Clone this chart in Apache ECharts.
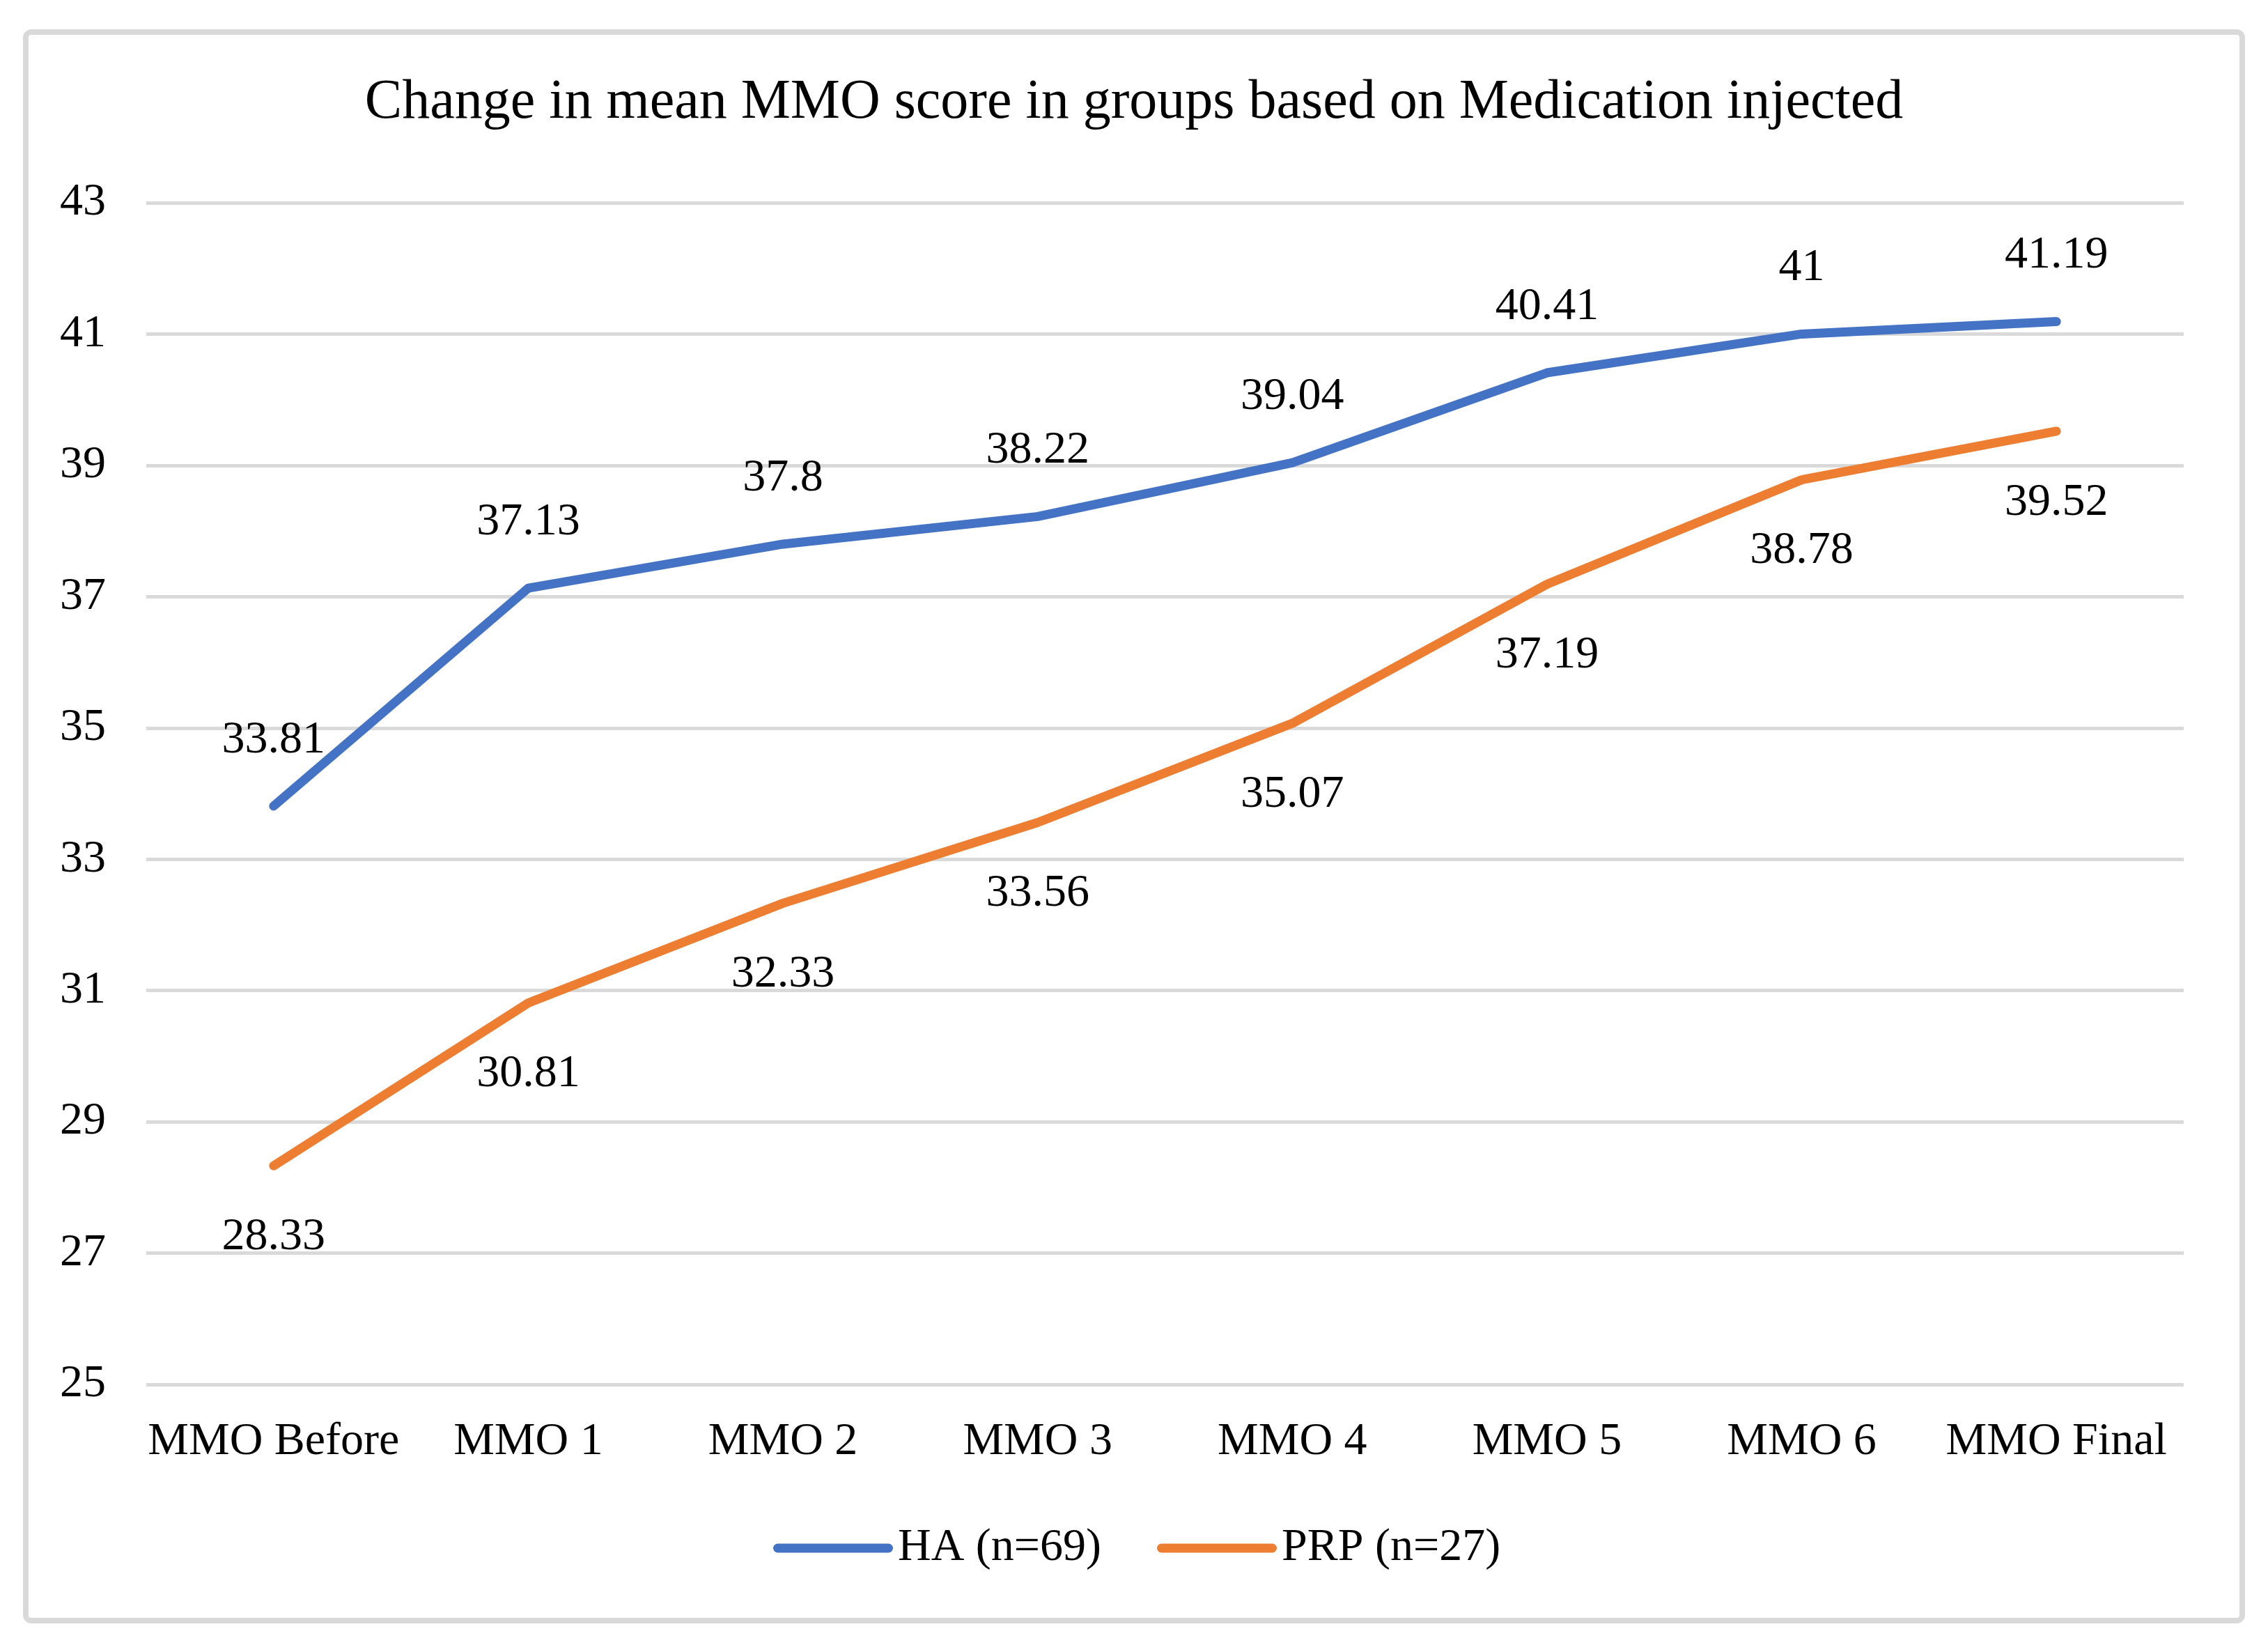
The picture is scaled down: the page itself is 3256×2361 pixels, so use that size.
<!DOCTYPE html>
<html>
<head>
<meta charset="utf-8">
<script src="https://cdn.jsdelivr.net/npm/echarts@6/dist/echarts.min.js"></script>
<style>
html,body{margin:0;padding:0;background:#fff;}
#c{width:3256px;height:2361px;}
</style>
</head>
<body>
<div id="c"></div>
<script>
const categories = ['MMO Before','MMO 1','MMO 2','MMO 3','MMO 4','MMO 5','MMO 6','MMO Final'];
const haValues = [33.81, 37.13, 37.8, 38.22, 39.04, 40.41, 41, 41.19];
const prpValues = [28.33, 30.81, 32.33, 33.56, 35.07, 37.19, 38.78, 39.52];
const seriesNames = ['HA (n=69)', 'PRP (n=27)'];
const titleText = 'Change in mean MMO score in groups based on Medication injected';

const FONT = '"Liberation Serif", "Times New Roman", serif';
const pill = 'path://M6.5,0 L165.5,0 A6.5,6.5 0 0 1 165.5,13 L6.5,13 A6.5,6.5 0 0 1 6.5,0 Z';

const chart = echarts.init(document.getElementById('c'), null, {renderer:'canvas'});
chart.setOption({
  animation: false,
  backgroundColor: '#ffffff',
  graphic: [{
    type: 'rect',
    shape: {x: 37, y: 46, width: 3182, height: 2280, r: 8},
    style: {fill: 'none', stroke: '#d9d9d9', lineWidth: 8},
    silent: true, z: -1
  }],
  title: {
    text: titleText,
    left: 'center',
    top: 103,
    textStyle: {fontFamily: FONT, fontSize: 80, fontWeight: 'normal', color: '#000'}
  },
  legend: {
    data: seriesNames.map(n => ({name: n, icon: pill})),
    left: 1105,
    top: 2184,
    itemWidth: 172,
    itemHeight: 13,
    itemGap: 80,
    textStyle: {fontFamily: FONT, fontSize: 66, color: '#000', padding: [0, 0, 0, 2]}
  },
  grid: {left: 210, right: 121, top: 291, bottom: 374, containLabel: false},
  xAxis: {
    type: 'category',
    data: categories,
    boundaryGap: true,
    axisLine: {show: false},
    axisTick: {show: false},
    axisLabel: {fontFamily: FONT, fontSize: 66, color: '#000', margin: 50, interval: 0}
  },
  yAxis: {
    type: 'value',
    min: 25, max: 43, interval: 2,
    axisLine: {show: false},
    axisTick: {show: false},
    splitLine: {lineStyle: {color: '#d9d9d9', width: 5}},
    axisLabel: {fontFamily: FONT, fontSize: 66, color: '#000', margin: 58}
  },
  series: [
    {
      name: seriesNames[0], type: 'line', data: haValues,
      symbol: 'circle', symbolSize: 1, showSymbol: true,
      lineStyle: {color: '#4472C4', width: 13, cap: 'round', join: 'round'},
      itemStyle: {color: '#4472C4'},
      label: {show: true, position: 'top', distance: 61, fontFamily: FONT, fontSize: 66, color: '#000'}
    },
    {
      name: seriesNames[1], type: 'line', data: prpValues,
      symbol: 'circle', symbolSize: 1, showSymbol: true,
      lineStyle: {color: '#ED7D31', width: 13, cap: 'round', join: 'round'},
      itemStyle: {color: '#ED7D31'},
      label: {show: true, position: 'bottom', distance: 69, fontFamily: FONT, fontSize: 66, color: '#000'}
    }
  ]
});
</script>
</body>
</html>
